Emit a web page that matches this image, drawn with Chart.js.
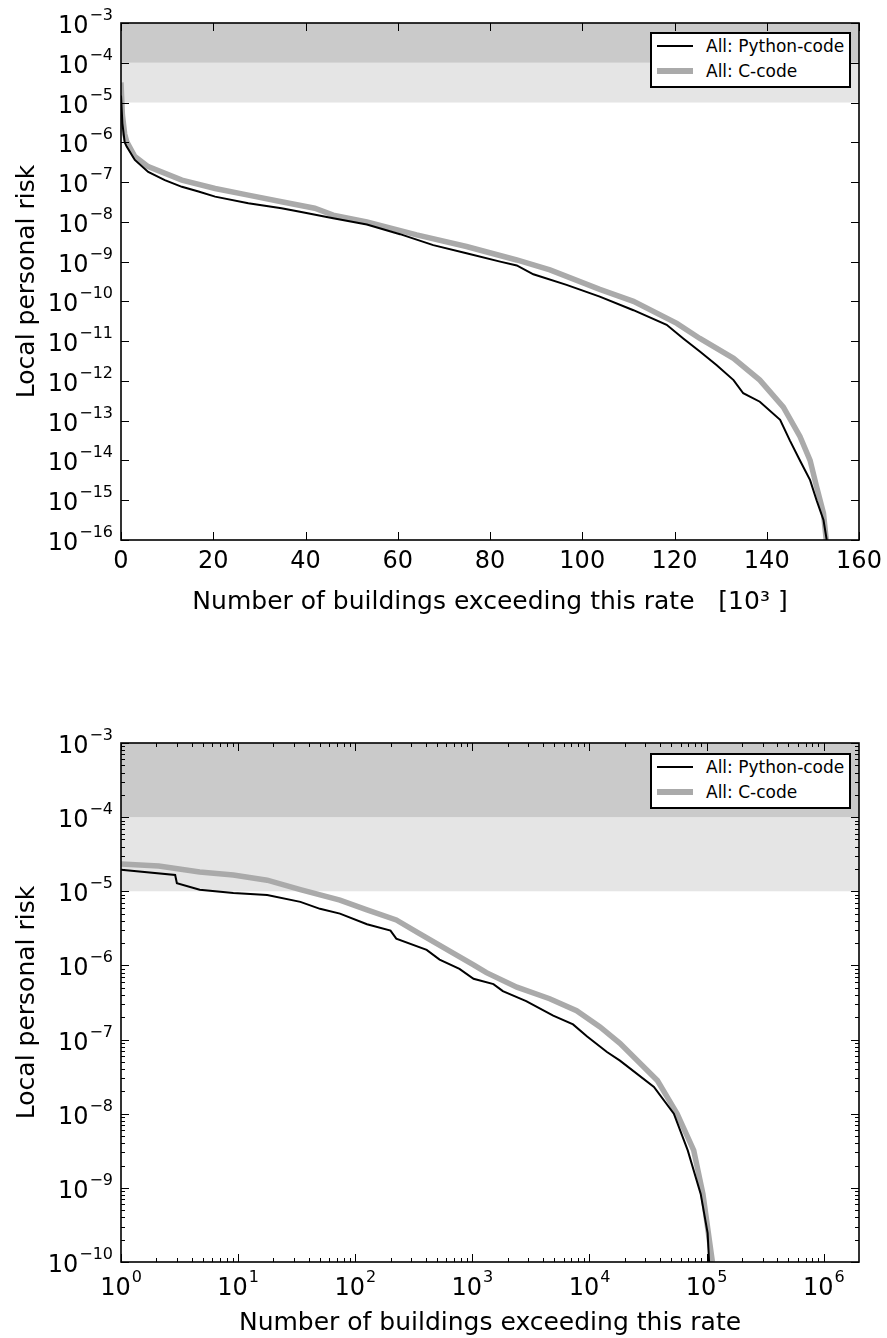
<!DOCTYPE html>
<html>
<head>
<meta charset="utf-8">
<script src="https://cdn.jsdelivr.net/npm/chart.js@4.4.1/dist/chart.umd.min.js"></script>
<style>
    html, body { margin: 0; padding: 0; background: #fff; }
    #page { position: relative; width: 887px; height: 1338px; overflow: hidden; }
    canvas { position: absolute; left: 0; }
    #topChart { top: 0; }
    #bottomChart { top: 650px; }
    .legend {
        position: absolute; left: 650px; width: 197px; height: 52px;
        border: 2px solid #000; background: #fff;
        font: 17px 'DejaVu Sans', sans-serif; color: #000;
    }
    .legend .row { position: absolute; left: 0; right: 0; height: 24px; line-height: 24px; }
    .legend .row span.txt { position: absolute; left: 54px; top: 0; white-space: nowrap; }
    .legend .row span.sample { position: absolute; left: 5px; width: 36px; }
</style>
</head>
<body>
<div id="page">
    <canvas id="topChart" width="887" height="650"></canvas>
    <canvas id="bottomChart" width="887" height="688"></canvas>
    <div class="legend" id="topLegend" style="top:32px"></div>
    <div class="legend" id="bottomLegend" style="top:753px"></div>
</div>
<script>
// Series names
const seriesNames = ['All: Python-code', 'All: C-code'];

// Top panel: buildings in thousands (linear) vs risk (log)
const topXTicks = [0, 20, 40, 60, 80, 100, 120, 140, 160];
const topYTicks = [1e-16, 1e-15, 1e-14, 1e-13, 1e-12, 1e-11, 1e-10, 1e-9, 1e-8, 1e-7, 1e-6, 1e-5, 1e-4, 1e-3];
const topPyX = [0, 0.3, 0.8, 1.23, 3, 5.9, 9.5, 13.2, 16.8, 20.4, 27.6, 34.8, 38.8, 46, 53.3, 60.5, 67.7, 74.9, 82.2, 85.8,
    89.4, 96.6, 103.8, 111.1, 118.3, 121.9, 125.5, 129.1, 132.8, 134.9, 138.5, 142.9, 145, 147.2, 149.4, 150.8, 152.3, 153];
const topPyY = [1.5e-5, 3e-6, 1e-6, 7.8e-7, 3.6e-7, 1.8e-7, 1.12e-7, 7.6e-8, 5.8e-8, 4.3e-8, 2.95e-8, 2.2e-8, 1.8e-8, 1.23e-8, 8.6e-9, 4.9e-9, 2.6e-9, 1.62e-9, 1e-9, 8e-10,
    4.8e-10, 2.6e-10, 1.32e-10, 6e-11, 2.57e-11, 1.17e-11, 5.5e-12, 2.5e-12, 1.05e-12, 4.9e-13, 3e-13, 1.05e-13, 3.2e-14, 1e-14, 3.2e-15, 1e-15, 3.2e-16, 1e-16];
const topCX = [0, 0.3, 0.8, 1.23, 3, 5.9, 13.2, 20.4, 27.6, 34.8, 42, 46, 53.3, 64.1, 74.9, 85.8, 93, 103.8, 111.1, 120.5,
    125.5, 132.8, 138.5, 143.6, 147.2, 149.4, 150.8, 152.3, 152.9];
const topCY = [3.2e-5, 5e-6, 1.6e-6, 1.05e-6, 4.4e-7, 2.45e-7, 1.12e-7, 6.9e-8, 4.7e-8, 3.2e-8, 2.2e-8, 1.48e-8, 1e-8, 4.7e-9, 2.4e-9, 1.1e-9, 6.2e-10, 2e-10, 1e-10, 2.8e-11,
    1.17e-11, 3.7e-12, 1.05e-12, 2.2e-13, 4e-14, 1e-14, 2.2e-15, 4.7e-16, 1e-16];

// Bottom panel: buildings (log) vs risk (log)
const botXTicks = [1, 10, 100, 1e3, 1e4, 1e5, 1e6];
const botYTicks = [1e-10, 1e-9, 1e-8, 1e-7, 1e-6, 1e-5, 1e-4, 1e-3];
const botPyX = [1, 2.9, 3, 4.7, 9.1, 17.7, 34, 50, 74, 126, 200, 224, 407, 525, 776, 1023, 1514, 1820, 2880, 4900,
    7240, 9550, 14100, 18200, 35500, 52500, 69000, 89000, 102000, 105000];
const botPyY = [1.95e-5, 1.66e-5, 1.29e-5, 1.05e-5, 9.5e-6, 8.9e-6, 7.2e-6, 5.8e-6, 5e-6, 3.6e-6, 2.95e-6, 2.3e-6, 1.62e-6, 1.2e-6, 9e-7, 6.6e-7, 5.6e-7, 4.5e-7, 3.3e-7, 2.1e-7,
    1.6e-7, 1.1e-7, 6.8e-8, 5.2e-8, 2.3e-8, 1e-8, 3.2e-9, 8.3e-10, 2.45e-10, 1e-10];
const botCX = [1, 2.1, 4.7, 9.1, 17.7, 34, 74, 126, 224, 339, 646, 1023, 1318, 2400, 4570, 7760, 12300, 18200, 38000, 56000,
    77600, 93000, 112000];
const botCY = [2.34e-5, 2.19e-5, 1.82e-5, 1.66e-5, 1.41e-5, 1.05e-5, 7.6e-6, 5.6e-6, 4.1e-6, 2.8e-6, 1.55e-6, 1.02e-6, 8e-7, 5.1e-7, 3.55e-7, 2.45e-7, 1.48e-7, 8.9e-8, 2.8e-8, 1e-8,
    3.2e-9, 8.3e-10, 1e-10];

// Risk limit bands: [1e-5,1e-4] and [1e-4,1e-3]
const riskLevels = [1e-5, 1e-4, 1e-3];
const bandColors = ['#e5e5e5', '#cacaca'];

const FONT = 'DejaVu Sans';

function exponentOf(v) {
    return String(Math.round(Math.log10(v))).replace('-', '\u2212');
}

function toPoints(xs, ys) {
    return xs.map((x, i) => ({ x: x, y: ys[i] }));
}

// Bands behind the curves; inward ticks, frame and mathtext-like labels on top
const axesDecor = {
    id: 'axesDecor',
    beforeDatasetsDraw(chart) {
        const { ctx, chartArea: a, scales: { y } } = chart;
        ctx.save();
        for (let i = 0; i < riskLevels.length - 1; i++) {
            const y1 = y.getPixelForValue(riskLevels[i + 1]);
            const y0 = y.getPixelForValue(riskLevels[i]);
            ctx.fillStyle = bandColors[i];
            ctx.fillRect(a.left, y1, a.width, y0 - y1);
        }
        ctx.restore();
    },
    afterDatasetsDraw(chart, args, opts) {
        const { ctx, chartArea: a, scales: { x, y } } = chart;
        ctx.save();
        ctx.strokeStyle = '#000';
        ctx.lineWidth = 1;
        const line = (x0, y0, x1, y1) => { ctx.beginPath(); ctx.moveTo(x0, y0); ctx.lineTo(x1, y1); ctx.stroke(); };
        const xTick = (v, len) => {
            const p = Math.round(x.getPixelForValue(v)) + 0.5;
            line(p, a.bottom, p, a.bottom - len);
            line(p, a.top, p, a.top + len);
        };
        const yTick = (v, len) => {
            const p = Math.round(y.getPixelForValue(v)) + 0.5;
            line(a.left, p, a.left + len, p);
            line(a.right, p, a.right - len, p);
        };
        x.ticks.forEach(t => xTick(t.value, 8));
        y.ticks.forEach(t => yTick(t.value, 8));
        const minor = (scale, fn) => {
            scale.ticks.forEach(t => {
                for (let k = 2; k <= 9; k++) {
                    const v = t.value * k;
                    if (v > scale.min && v < scale.max) fn(v, 4);
                }
            });
        };
        if (opts.minorX) minor(x, xTick);
        if (opts.minorY) minor(y, yTick);
        ctx.lineWidth = 1.6;
        ctx.strokeRect(a.left, a.top, a.width, a.height);

        // tick labels
        ctx.fillStyle = '#000';
        ctx.textBaseline = 'alphabetic';
        ctx.textAlign = 'left';
        const big = '24px "' + FONT + '"';
        const small = '16px "' + FONT + '"';
        ctx.font = big;
        const w10 = ctx.measureText('10').width;

        y.ticks.forEach(t => {
            const p = y.getPixelForValue(t.value);
            const e = exponentOf(t.value);
            ctx.font = small;
            const we = ctx.measureText(e).width;
            const right = a.left - 8;
            ctx.fillText(e, right - we, p - 3);
            ctx.font = big;
            ctx.fillText('10', right - we - 1 - w10, p + 10);
        });

        x.ticks.forEach(t => {
            const p = x.getPixelForValue(t.value);
            if (opts.minorX) {
                const e = exponentOf(t.value);
                ctx.font = small;
                const we = ctx.measureText(e).width;
                const start = p - (w10 + 1 + we) / 2;
                ctx.fillText(e, start + w10 + 1, a.bottom + 20);
                ctx.font = big;
                ctx.fillText('10', start, a.bottom + 33);
            } else {
                ctx.font = big;
                const s = String(t.value);
                ctx.fillText(s, p - ctx.measureText(s).width / 2, a.bottom + 28);
            }
        });
        ctx.restore();
    }
};

const titleFont = { family: FONT, size: 25 };

function makeChart(id, cfg) {
    return new Chart(document.getElementById(id), {
        type: 'scatter',
        data: {
            datasets: [{
                label: seriesNames[0],
                data: toPoints(cfg.pyX, cfg.pyY),
                showLine: true,
                borderColor: '#000',
                borderWidth: 2,
                pointRadius: 0,
                tension: 0
            }, {
                label: seriesNames[1],
                data: toPoints(cfg.cX, cfg.cY),
                showLine: true,
                borderColor: '#aaaaaa',
                borderWidth: 5.5,
                pointRadius: 0,
                tension: 0
            }]
        },
        options: {
            responsive: false,
            animation: false,
            events: [],
            layout: { padding: { left: 0, right: 28, top: cfg.padTop, bottom: 0 } },
            plugins: {
                legend: { display: false },
                tooltip: { enabled: false },
                axesDecor: { minorX: cfg.xType === 'logarithmic', minorY: cfg.minorY }
            },
            scales: {
                x: {
                    type: cfg.xType,
                    min: cfg.xMin,
                    max: cfg.xMax,
                    grid: { display: false },
                    border: { display: false },
                    afterBuildTicks: s => { s.ticks = cfg.xTicks.map(v => ({ value: v })); },
                    afterFit: s => { s.height = cfg.xHeight; },
                    ticks: { display: false, autoSkip: false },
                    title: { display: true, text: cfg.xTitle, color: '#000', font: titleFont, padding: { top: 0, bottom: cfg.xTitlePad } }
                },
                y: {
                    type: 'logarithmic',
                    min: cfg.yMin,
                    max: cfg.yMax,
                    grid: { display: false },
                    border: { display: false },
                    afterBuildTicks: s => { s.ticks = cfg.yTicks.map(v => ({ value: v })); },
                    afterFit: s => { s.width = 121; },
                    ticks: { display: false, autoSkip: false },
                    title: { display: true, text: 'Local personal risk', color: '#000', font: titleFont, padding: { top: 12, bottom: 0 } }
                }
            }
        },
        plugins: [axesDecor]
    });
}

function buildLegend(elId, chart) {
    const el = document.getElementById(elId);
    chart.data.datasets.forEach((ds, i) => {
        const row = document.createElement('div');
        row.className = 'row';
        row.style.top = (i * 25) + 'px';
        const sample = document.createElement('span');
        sample.className = 'sample';
        sample.style.height = ds.borderWidth + 'px';
        sample.style.top = (12 - ds.borderWidth / 2) + 'px';
        sample.style.background = ds.borderColor;
        const txt = document.createElement('span');
        txt.className = 'txt';
        txt.textContent = ds.label;
        row.appendChild(sample);
        row.appendChild(txt);
        el.appendChild(row);
    });
}

const topChart = makeChart('topChart', {
    pyX: topPyX, pyY: topPyY, cX: topCX, cY: topCY,
    xType: 'linear', xMin: 0, xMax: 160, xTicks: topXTicks,
    yMin: 1e-16, yMax: 1e-3, yTicks: topYTicks, minorY: false,
    padTop: 23, xHeight: 110, xTitlePad: 33,
    xTitle: 'Number of buildings exceeding this rate   [10\u00B3 ]'
});

const bottomChart = makeChart('bottomChart', {
    pyX: botPyX, pyY: botPyY, cX: botCX, cY: botCY,
    xType: 'logarithmic', xMin: 1, xMax: 2e6, xTicks: botXTicks,
    yMin: 1e-10, yMax: 1e-3, yTicks: botYTicks, minorY: true,
    padTop: 93, xHeight: 76, xTitlePad: 0,
    xTitle: 'Number of buildings exceeding this rate'
});

buildLegend('topLegend', topChart);
buildLegend('bottomLegend', bottomChart);
</script>
</body>
</html>
